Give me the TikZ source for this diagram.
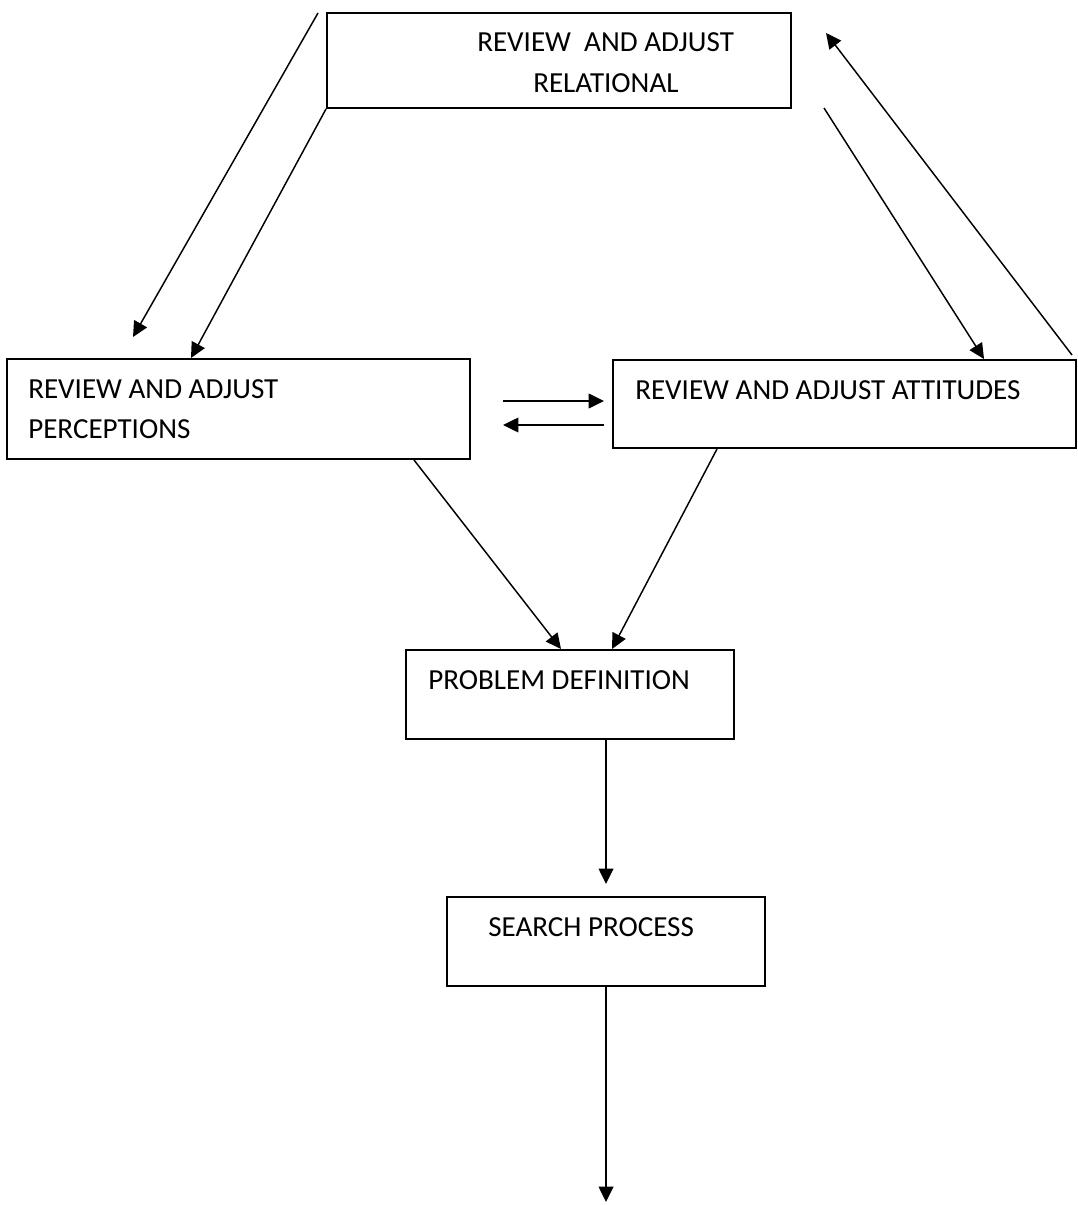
\documentclass[tikz,border=0pt]{standalone}
\usepackage{fontspec}
\setmainfont{Carlito}
\usetikzlibrary{arrows.meta,calc}
\begin{document}
\begin{tikzpicture}[x=0.75pt,y=-0.75pt,
  box/.style={draw,line width=1.5pt,rectangle,inner sep=0pt},
  lbl/.style={anchor=base west,inner sep=0pt,font=\fontsize{21.8}{26}\selectfont},
  conn/.style={line width=1.1pt,-{Triangle[length=11.5pt,width=11pt]}}]
\useasboundingbox (0,0) rectangle (1077,1205);

% boxes
\node[box,minimum width=348pt,minimum height=71.25pt] (rel) at (559,60.5) {};
\node[box,minimum width=347.25pt,minimum height=75pt] (per) at (238.5,409) {};
\node[box,minimum width=347.25pt,minimum height=66pt] (att) at (844.5,404) {};
\node[box,minimum width=246pt,minimum height=66.75pt] (prob) at (570,694.5) {};
\node[box,minimum width=238.5pt,minimum height=66.75pt] (search) at (606,941.5) {};

% box texts
\node[lbl] (relA) at (477,52) {REVIEW\ \ AND ADJUST};
\node[lbl] (relB) at (533,93) {RELATIONAL};
\node[lbl] (perA) at (28,398) {REVIEW AND ADJUST};
\node[lbl] (perB) at (28,438) {PERCEPTIONS};
\node[lbl] (attA) at (635,399) {REVIEW AND ADJUST ATTITUDES};
\node[lbl] (probA) at (428,689) {PROBLEM DEFINITION};
\node[lbl] (searchA) at (488,936) {SEARCH PROCESS};

% free line ends
\coordinate (s1) at (318,13);
\coordinate (e1) at (133,337);
\coordinate (s3) at (824,108);
\coordinate (e4) at (826,33);
\coordinate (h1) at (503,401);
\coordinate (h2) at (503,425);
\coordinate (fin) at (606,1202);

% connectors
\draw[conn] (s1) -- (e1);
\draw[conn] (rel.south west) -- ($(per.north west)+(185,0)$);
\draw[conn] (s3) -- ($(att.north west)+(372,0)$);
\draw[conn] ($(att.north east)+(-5,-4)$) -- (e4);
\draw[conn] ($(per.south west)+(408,0)$) -- ($(prob.north west)+(156,0)$);
\draw[conn] ($(att.south west)+(105,0)$) -- ($(prob.north west)+(207,0)$);
\draw[conn,shorten >=6pt] (h1) -- (h1 -| att.west);
\draw[conn] ($(h2 -| att.west)+(-8,0)$) -- (h2);
\draw[conn,shorten >=9pt] (search.north |- prob.south) -- (search.north);
\draw[conn] (search.south) -- (fin);
\end{tikzpicture}
\end{document}
